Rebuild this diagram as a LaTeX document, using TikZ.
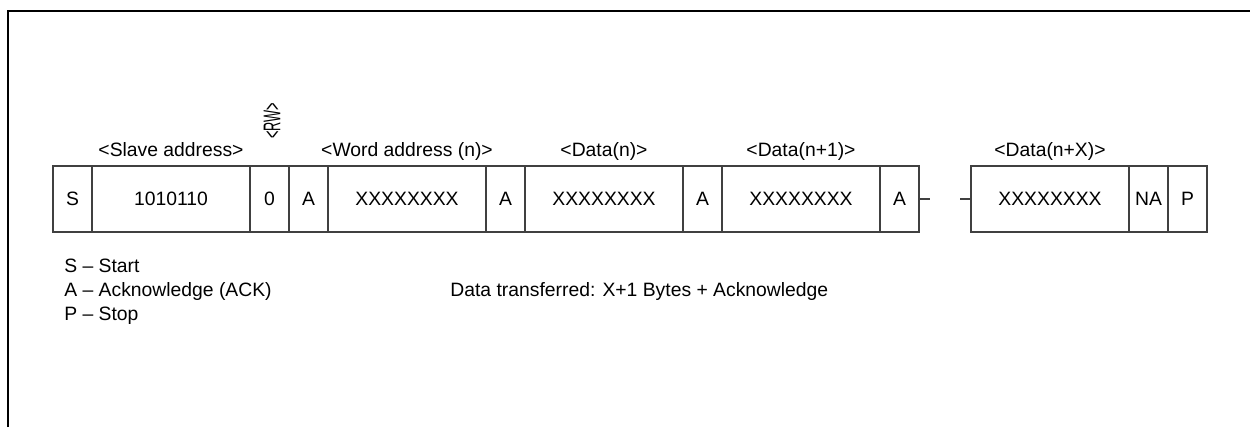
\documentclass[tikz,border=0pt]{standalone}
\usepackage{fontspec}
\setmainfont{Liberation Sans}
\usetikzlibrary{positioning}
\begin{document}
\begin{tikzpicture}[font=\fontsize{11}{13}\selectfont,
  cell/.style={draw=black!75, line width=.6pt, outer sep=0pt, inner sep=0pt, minimum height=1.32cm},
  bit/.style={cell, minimum width=.78cm},
  byte/.style={cell, minimum width=3.16cm},
  fld/.style={anchor=base, yshift=.2cm},
  txt/.style={anchor=base west, inner sep=0pt}]
\useasboundingbox (0,0) rectangle (25,-8.54);
% frame
\draw[line width=1.1pt] (.16,-8.54) |- (25,-.22);
% frame bytes
\node[bit, anchor=west] (s) at (1.06,-3.98) {S};
\node[byte, right=0pt of s] (addr) {1010110};
\node[bit, right=0pt of addr] (rw) {0};
\node[bit, right=0pt of rw] (a1) {A};
\node[byte, right=0pt of a1] (word) {XXXXXXXX};
\node[bit, right=0pt of word] (a2) {A};
\node[byte, right=0pt of a2] (d0) {XXXXXXXX};
\node[bit, right=0pt of d0] (a3) {A};
\node[byte, right=0pt of a3] (d1) {XXXXXXXX};
\node[bit, right=0pt of d1] (a4) {A};
\node[byte, right=1.04cm of a4] (dx) {XXXXXXXX};
\node[bit, right=0pt of dx] (na) {NA};
\node[bit, right=0pt of na] (p) {P};
\coordinate[right=.22cm of a4.east] (g1);
\coordinate[left=.22cm of dx.west] (g2);
\draw[black!75, line width=.6pt] (a4.east) -- (g1) (g2) -- (dx.west);
% field names
\node[fld] (laddr) at (addr.north) {<Slave address>};
\node[rotate=90, inner sep=0pt] (lrw) at ([xshift=.05cm, yshift=.9cm]rw.north) {\scalebox{.66}[1.25]{<RW>}};
\node[fld] (lword) at (word.north) {<Word address (n)>};
\node[fld] (ld0) at (d0.north) {<Data(n)>};
\node[fld] (ld1) at (d1.north) {<Data(n+1)>};
\node[fld] (ldx) at (dx.north) {<Data(n+X)>};
% legend
\node[txt] (ls) at (1.28,-5.44) {S -- Start};
\node[txt] (la) at (1.28,-5.92) {A -- Acknowledge (ACK)};
\node[txt] (lp) at (1.28,-6.40) {P -- Stop};
\node[txt] (ltr) at (9.0,-5.92) {Data transferred: X+1 Bytes + Acknowledge};
\end{tikzpicture}
\end{document}
